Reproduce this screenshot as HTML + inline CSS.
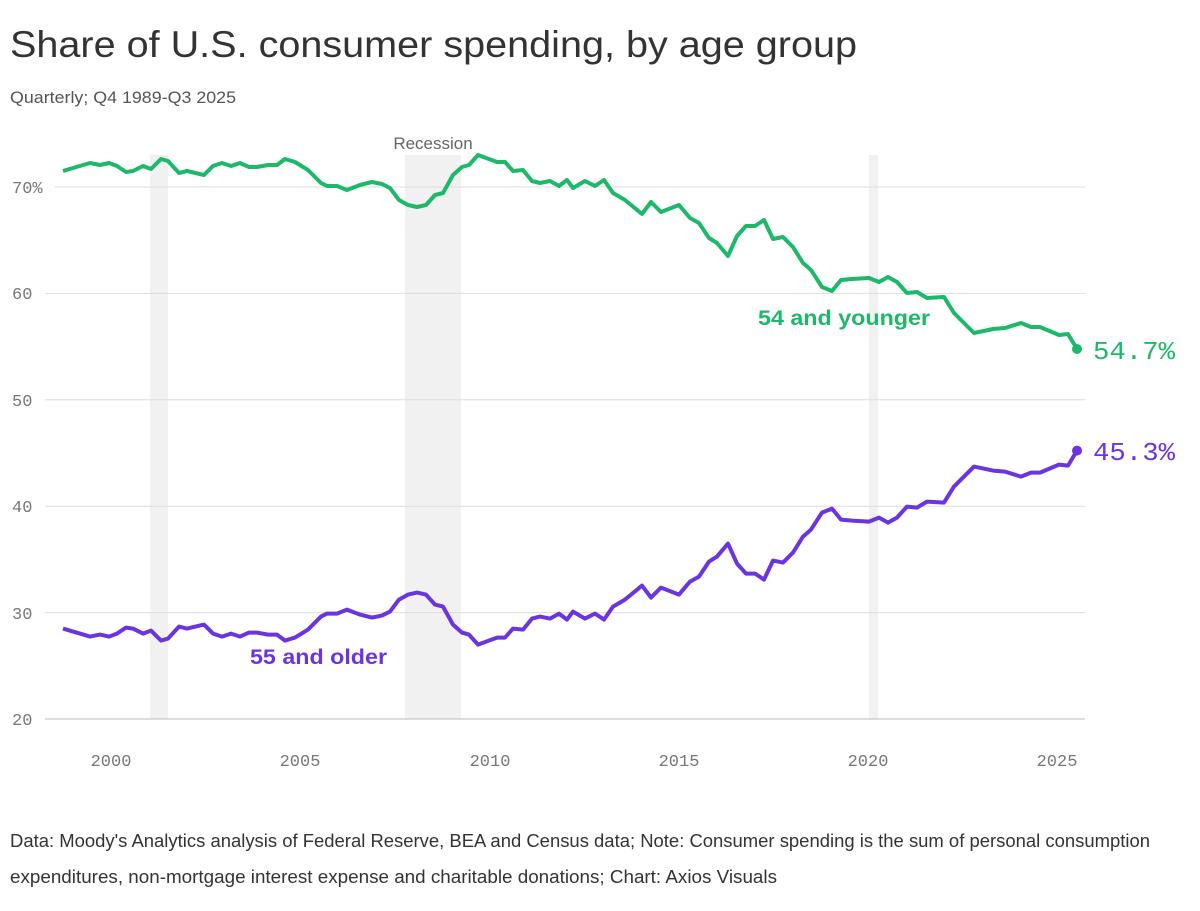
<!DOCTYPE html>
<html><head><meta charset="utf-8"><style>
body{margin:0;background:#fff;width:1200px;height:911px;overflow:hidden;font-family:"Liberation Sans",sans-serif;}
svg{position:absolute;left:0;top:0}
</style></head><body>
<svg width="1200" height="911" viewBox="0 0 1200 911">
<text x="10" y="57" font-size="37" fill="#333" textLength="847" lengthAdjust="spacingAndGlyphs">Share of U.S. consumer spending, by age group</text>
<text x="10" y="103" font-size="17" fill="#555" textLength="226" lengthAdjust="spacingAndGlyphs">Quarterly; Q4 1989-Q3 2025</text>
<g fill="#f1f1f1">
<rect x="150" y="155" width="18" height="564"/>
<rect x="405" y="155" width="56" height="564"/>
<rect x="869" y="155" width="9" height="564"/>
</g>
<text x="433" y="149" font-size="17" fill="#666" text-anchor="middle">Recession</text>
<g stroke="#ddd" stroke-width="1">
<line x1="55" x2="1085" y1="187" y2="187"/>
<line x1="45" x2="1085" y1="293.4" y2="293.4"/>
<line x1="45" x2="1085" y1="399.8" y2="399.8"/>
<line x1="45" x2="1085" y1="506.2" y2="506.2"/>
<line x1="45" x2="1085" y1="612.6" y2="612.6"/>
</g>
<line x1="45" x2="1085" y1="719" y2="719" stroke="#bbb"/>
<g font-family="Liberation Mono" font-size="17" fill="#777">
<text x="12" y="193">70%</text>
<text x="12" y="299">60</text>
<text x="12" y="406">50</text>
<text x="12" y="512">40</text>
<text x="12" y="619">30</text>
<text x="12" y="725">20</text>
<g text-anchor="middle">
<text x="111" y="766">2000</text>
<text x="300" y="766">2005</text>
<text x="490" y="766">2010</text>
<text x="679" y="766">2015</text>
<text x="868" y="766">2020</text>
<text x="1057" y="766">2025</text>
</g></g>
<defs>
<polyline id="ln" fill="none" stroke-width="4" stroke-linejoin="round" points="63,171 90,163 100,165 109,163 117,166 126,172 133,171 143,166 151,169 161,159 168,161 179,173 187,171 204,175 213,166 222,163 231,166 240,163 249,167 257,167 268,165 277,165 285,159 295,162 308,170 321,183 327,186 337,186 347,190 360,185 372,182 382,184 390,188 399,200 408,205 417,207 426,205 435,195 443,193 453,175 462,167 469,165 478,155 497,162 505,162 513,171 523,170 532,181 540,183 550,181 559,186 567,180 573,188 585,181 595,186 604,180 613,193 625,200 642,214 651,202 661,212 679,205 690,218 699,223 709,238 717,243 728,256 737,236 746,226 755,226 764,220 773,239 783,237 793,247 803,263 811,270 822,287 832,291 841,280 852,279 869,278 879,282 888,277 897,282 907,293 917,292 927,298 944,297 954,313 974,333 993,329 1005,328 1021,323 1031,327 1040,327 1059,335 1068,334 1077,349"/>
</defs>
<use href="#ln" stroke="#1db86a"/>
<use href="#ln" stroke="#6a35e0" transform="matrix(1,0,0,-1,0,799.6)"/>
<circle cx="1077" cy="349" r="5" fill="#1db86a"/>
<circle cx="1077" cy="450.6" r="5" fill="#6a35e0"/>
<text x="1093" y="359" font-family="Liberation Mono" font-size="26" fill="#1db86a" textLength="82" lengthAdjust="spacingAndGlyphs">54.7%</text>
<text x="1093" y="460" font-family="Liberation Mono" font-size="26" fill="#6a35e0" textLength="82" lengthAdjust="spacingAndGlyphs">45.3%</text>
<text x="758" y="325" font-size="21" font-weight="bold" fill="#1db86a" textLength="172" lengthAdjust="spacingAndGlyphs">54 and younger</text>
<text x="250" y="664" font-size="21" font-weight="bold" fill="#6a35e0" textLength="137" lengthAdjust="spacingAndGlyphs">55 and older</text>
<text x="10" y="847" font-size="18" fill="#333" textLength="1140" lengthAdjust="spacingAndGlyphs">Data: Moody's Analytics analysis of Federal Reserve, BEA and Census data; Note: Consumer spending is the sum of personal consumption</text>
<text x="10" y="883" font-size="18" fill="#333" textLength="767" lengthAdjust="spacingAndGlyphs">expenditures, non-mortgage interest expense and charitable donations; Chart: Axios Visuals</text>
</svg>
</body></html>
